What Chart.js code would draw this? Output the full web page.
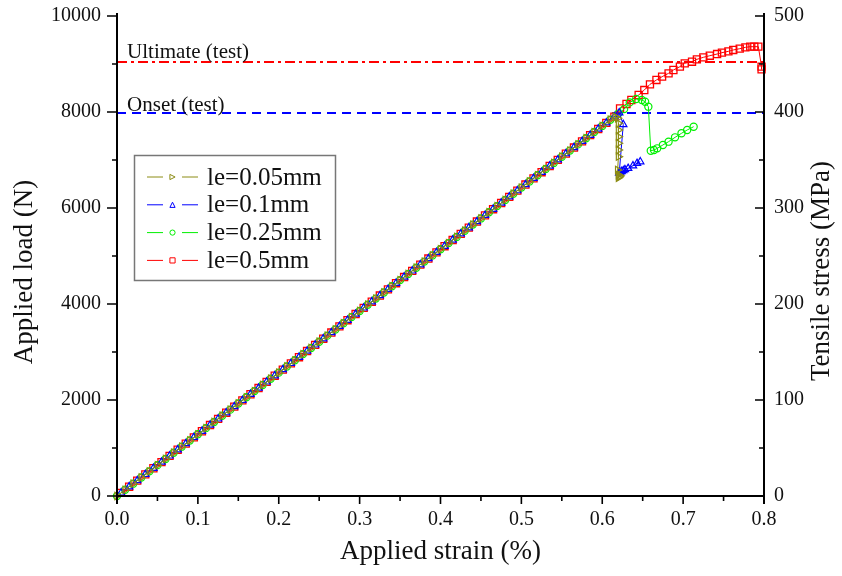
<!DOCTYPE html>
<html>
<head>
<meta charset="utf-8">
<script src="https://cdn.jsdelivr.net/npm/chart.js@4.4.0/dist/chart.umd.min.js"></script>
<style>
html,body{margin:0;padding:0;background:#fff;}
#wrap{width:842px;height:576px;}
</style>
</head>
<body>
<div id="wrap"><canvas id="c" width="842" height="576"></canvas></div>
<script>
// ---------- data ----------
// shared elastic branch, sampling A (used by le=0.05 and le=0.25)
const strainA = [0,0.01,0.02,0.03,0.04,0.05,0.06,0.07,0.08,0.09,0.10,0.11,0.12,0.13,0.14,0.15,0.16,0.17,0.18,0.19,0.20,0.21,0.22,0.23,0.24,0.25,0.26,0.27,0.28,0.29,0.30,0.31,0.32,0.33,0.34,0.35,0.36,0.37,0.38,0.39,0.40,0.41,0.42,0.43,0.44,0.45,0.46,0.47,0.48,0.49,0.50,0.51,0.52,0.53,0.54,0.55,0.56,0.57,0.58,0.59,0.60,0.61];
const loadA = [0,129,257,386,514,643,771,900,1028,1157,1285,1414,1542,1671,1799,1928,2056,2185,2313,2442,2570,2699,2827,2956,3084,3213,3341,3470,3598,3727,3855,3984,4112,4241,4369,4498,4626,4755,4883,5012,5140,5269,5397,5526,5654,5783,5911,6040,6168,6297,6425,6554,6682,6811,6939,7068,7196,7325,7453,7582,7710,7839];
// shared elastic branch, sampling B (used by le=0.1 and le=0.5)
const strainB = [0.005,0.015,0.025,0.035,0.045,0.055,0.065,0.075,0.085,0.095,0.105,0.115,0.125,0.135,0.145,0.155,0.165,0.175,0.185,0.195,0.205,0.215,0.225,0.235,0.245,0.255,0.265,0.275,0.285,0.295,0.305,0.315,0.325,0.335,0.345,0.355,0.365,0.375,0.385,0.395,0.405,0.415,0.425,0.435,0.445,0.455,0.465,0.475,0.485,0.495,0.505,0.515,0.525,0.535,0.545,0.555,0.565,0.575,0.585,0.595,0.605,0.615];
const loadB = [64,193,321,450,578,707,835,964,1092,1221,1349,1478,1606,1735,1863,1992,2120,2249,2377,2506,2634,2763,2891,3020,3148,3277,3405,3534,3662,3791,3919,4048,4176,4305,4433,4562,4690,4819,4947,5076,5204,5333,5461,5590,5718,5847,5975,6104,6232,6361,6489,6618,6746,6875,7003,7132,7260,7389,7517,7646,7774,7903];

// post-peak branches
const tail005Strain = [0.616,0.619,0.620,0.620,0.620,0.620,0.620,0.620,0.619,0.620,0.620,0.621,0.622];
const tail005Load   = [7900,7868,7764,7625,7486,7347,7208,7069,6792,6688,6630,6650,6670];

const tail01Strain = [0.621,0.626,0.621,0.622,0.624,0.626,0.628,0.632,0.638,0.643,0.647];
const tail01Load   = [7985,7740,6730,6745,6760,6780,6800,6826,6880,6931,6965];

const tail025Strain = [0.620,0.627,0.634,0.642,0.649,0.653,0.657,0.660,0.664,0.668,0.675,0.682,0.690,0.698,0.705,0.713];
const tail025Load   = [7967,8060,8200,8271,8250,8215,8111,7194,7208,7243,7313,7382,7472,7556,7625,7694];

const tail05Strain = [0.622,0.630,0.636,0.645,0.652,0.659,0.667,0.674,0.682,0.688,0.696,0.702,0.711,0.717,0.725,0.733,0.742,0.748,0.756,0.762,0.770,0.777,0.783,0.788,0.793,0.797,0.797];
const tail05Load   = [8076,8167,8250,8354,8458,8576,8667,8736,8806,8875,8944,9014,9048,9097,9139,9173,9208,9236,9264,9292,9319,9347,9361,9361,9361,8944,8889];

const seriesLabels = ['le=0.05mm','le=0.1mm','le=0.25mm','le=0.5mm'];
const refStrainRange = [0, 0.8];
const ultimateLoad = 9040;
const onsetLoad = 7980;
const refLabels = ['Ultimate (test)','Onset (test)'];

const xTicks = [0,0.1,0.2,0.3,0.4,0.5,0.6,0.7,0.8];
const yTicks = [0,2000,4000,6000,8000,10000];
const y2Ticks = [0,100,200,300,400,500];

const axisTitles = {x:'Applied strain (%)', y:'Applied load (N)', y2:'Tensile stress (MPa)'};

// ---------- helpers ----------
function pts(sx, sy){ return sx.map((v,i)=>({x:v,y:sy[i]})); }
const SERIF = '"Liberation Serif", "DejaVu Serif", serif';
const OLIVE='#8c8c14', BLUE='#0000ff', GREEN='#00f000', RED='#ff0000';

const dsOlive = pts(strainA, loadA).concat(pts(tail005Strain, tail005Load));
const dsBlue  = pts(strainB, loadB).concat(pts(tail01Strain, tail01Load));
const dsGreen = pts(strainA, loadA).concat(pts(tail025Strain, tail025Load));
const dsRed   = pts(strainB, loadB).concat(pts(tail05Strain, tail05Load));

const datasets = [
  {label:seriesLabels[0], data:dsOlive, showLine:true, borderColor:OLIVE, backgroundColor:'rgba(0,0,0,0)', borderWidth:1,
   pointStyle:'triangle', rotation:90, pointRadius:4.2, pointBorderWidth:1.2, pointBorderColor:OLIVE, pointBackgroundColor:'rgba(0,0,0,0)', order:1, clip:8},
  {label:seriesLabels[1], data:dsBlue, showLine:true, borderColor:BLUE, backgroundColor:'rgba(0,0,0,0)', borderWidth:1,
   pointStyle:'triangle', pointRadius:4.2, pointBorderWidth:1.2, pointBorderColor:BLUE, pointBackgroundColor:'rgba(0,0,0,0)', order:2, clip:8},
  {label:seriesLabels[2], data:dsGreen, showLine:true, borderColor:GREEN, backgroundColor:'rgba(0,0,0,0)', borderWidth:1,
   pointStyle:'circle', pointRadius:3.6, pointBorderWidth:1.2, pointBorderColor:GREEN, pointBackgroundColor:'rgba(0,0,0,0)', order:3, clip:8},
  {label:seriesLabels[3], data:dsRed, showLine:true, borderColor:RED, backgroundColor:'rgba(0,0,0,0)', borderWidth:1,
   pointStyle:'rect', pointRadius:5, pointBorderWidth:1.3, pointBorderColor:RED, pointBackgroundColor:'rgba(0,0,0,0)', order:4, clip:8},
  {label:refLabels[0], data:refStrainRange.map(x=>({x, y:ultimateLoad})), showLine:true, borderColor:RED, borderWidth:2,
   borderDash:[10,4,3,4], pointRadius:0, order:6, clip:0},
  {label:refLabels[1], data:refStrainRange.map(x=>({x, y:onsetLoad})), showLine:true, borderColor:BLUE, borderWidth:2,
   borderDash:[9,6], pointRadius:0, order:5, clip:0}
];

// ---------- decoration plugin ----------
const deco = {
  id:'deco',
  afterDraw(chart){
    const ctx = chart.ctx, a = chart.chartArea;
    const sx = chart.scales.x, sy = chart.scales.y, sy2 = chart.scales.y2;
    ctx.save();
    // axis lines
    ctx.strokeStyle='#000'; ctx.lineWidth=2;
    ctx.beginPath();
    ctx.moveTo(a.left, a.top-3); ctx.lineTo(a.left, a.bottom+8);
    ctx.moveTo(a.right, a.top-3); ctx.lineTo(a.right, a.bottom+8);
    ctx.moveTo(a.left, a.bottom); ctx.lineTo(a.right, a.bottom);
    ctx.stroke();
    // ticks
    ctx.lineWidth=1.6;
    ctx.beginPath();
    for(let i=0;i<yTicks.length;i++){
      const p = sy.getPixelForValue(yTicks[i]);
      ctx.moveTo(a.left-10, p); ctx.lineTo(a.left, p);
      if(i<yTicks.length-1){
        const m = sy.getPixelForValue((yTicks[i]+yTicks[i+1])/2);
        ctx.moveTo(a.left-5, m); ctx.lineTo(a.left, m);
      }
    }
    for(let i=0;i<y2Ticks.length;i++){
      const p = sy2.getPixelForValue(y2Ticks[i]);
      ctx.moveTo(a.right-9, p); ctx.lineTo(a.right, p);
      if(i<y2Ticks.length-1){
        const m = sy2.getPixelForValue((y2Ticks[i]+y2Ticks[i+1])/2);
        ctx.moveTo(a.right-5, m); ctx.lineTo(a.right, m);
      }
    }
    for(let i=0;i<xTicks.length;i++){
      const p = sx.getPixelForValue(xTicks[i]);
      ctx.moveTo(p, a.bottom); ctx.lineTo(p, a.bottom+8);
      if(i<xTicks.length-1){
        const m = sx.getPixelForValue((xTicks[i]+xTicks[i+1])/2);
        ctx.moveTo(m, a.bottom); ctx.lineTo(m, a.bottom+5);
      }
    }
    ctx.stroke();

    // axis titles
    ctx.fillStyle='#111';
    ctx.font='27px '+SERIF;
    ctx.textAlign='center'; ctx.textBaseline='middle';
    ctx.fillText(axisTitles.x, (a.left+a.right)/2, 552);
    ctx.save(); ctx.translate(25, 272); ctx.rotate(-Math.PI/2); ctx.fillText(axisTitles.y, 0, 0); ctx.restore();
    ctx.save(); ctx.translate(822, 271); ctx.rotate(-Math.PI/2); ctx.fillText(axisTitles.y2, 0, 0); ctx.restore();

    // reference line labels
    ctx.font='21px '+SERIF;
    ctx.textAlign='left'; ctx.textBaseline='alphabetic';
    const lx = sx.getPixelForValue(0.0125);
    ctx.fillText(refLabels[0], lx, sy.getPixelForValue(ultimateLoad)-4);
    ctx.fillText(refLabels[1], lx, sy.getPixelForValue(onsetLoad)-2);

    // legend box
    const bx=134.5, by=155.5, bw=201, bh=125;
    ctx.fillStyle='#fff'; ctx.fillRect(bx,by,bw,bh);
    ctx.strokeStyle='#777'; ctx.lineWidth=1.5; ctx.strokeRect(bx,by,bw,bh);
    const cols=[OLIVE,BLUE,GREEN,RED];
    const shapes=['triR','triU','circ','rect'];
    ctx.font='25px '+SERIF;
    ctx.textBaseline='middle';
    for(let i=0;i<4;i++){
      const yy = 177 + i*27.8;
      ctx.strokeStyle=cols[i]; ctx.lineWidth=1;
      ctx.beginPath();
      ctx.moveTo(147,yy); ctx.lineTo(163,yy);
      ctx.moveTo(182,yy); ctx.lineTo(198,yy);
      ctx.stroke();
      const mx=172.5, r=2.6;
      ctx.beginPath();
      if(shapes[i]==='triR'){ ctx.moveTo(mx-r,yy-r); ctx.lineTo(mx+r,yy); ctx.lineTo(mx-r,yy+r); ctx.closePath(); }
      else if(shapes[i]==='triU'){ ctx.moveTo(mx,yy-r); ctx.lineTo(mx+r,yy+r); ctx.lineTo(mx-r,yy+r); ctx.closePath(); }
      else if(shapes[i]==='circ'){ ctx.arc(mx,yy,r,0,Math.PI*2); }
      else { ctx.rect(mx-r,yy-r,2*r,2*r); }
      ctx.stroke();
      ctx.fillStyle='#111';
      ctx.fillText(seriesLabels[i], 207, yy+1);
    }
    ctx.restore();
  }
};

const tickFont = {family:SERIF, size:20};
function fitV(w){ return s=>{ s.width=w; s.paddingTop=0; s.paddingBottom=0; }; }
new Chart(document.getElementById('c'), {
  type:'scatter',
  data:{datasets},
  options:{
    responsive:false, animation:false, devicePixelRatio:1,
    layout:{padding:{top:16,left:0,right:0,bottom:0}},
    plugins:{legend:{display:false}, tooltip:{enabled:false}},
    scales:{
      x:{type:'linear', position:'bottom', min:0, max:0.8,
         afterBuildTicks:s=>{s.ticks = xTicks.map(v=>({value:v}));},
         ticks:{font:tickFont, color:'#111', padding:12, maxRotation:0, autoSkip:false, callback:v=>Number(v).toFixed(1)},
         grid:{display:false, drawTicks:false}, border:{display:false},
         afterFit:s=>{s.height=80; s.paddingLeft=0; s.paddingRight=0;}},
      y:{type:'linear', position:'left', min:0, max:10000,
         afterBuildTicks:s=>{s.ticks = yTicks.map(v=>({value:v}));},
         ticks:{font:tickFont, color:'#111', padding:16, callback:v=>String(v)},
         grid:{display:false, drawTicks:false}, border:{display:false},
         afterFit:fitV(117)},
      y2:{type:'linear', position:'right', min:0, max:500,
         afterBuildTicks:s=>{s.ticks = y2Ticks.map(v=>({value:v}));},
         ticks:{font:tickFont, color:'#111', padding:10, callback:v=>String(v)},
         grid:{display:false, drawTicks:false}, border:{display:false},
         afterFit:fitV(78)}
    }
  },
  plugins:[deco]
});
</script>
</body>
</html>
